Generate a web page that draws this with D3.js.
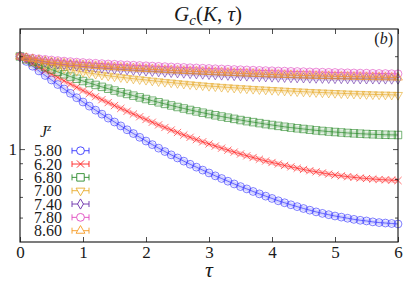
<!DOCTYPE html>
<html>
<head>
<meta charset="utf-8">
<script src="https://cdn.jsdelivr.net/npm/d3@7"></script>
</head>
<body style="margin:0; background:#fff">
<svg id="chart" width="409" height="286"></svg>
<script>
// tau grid, one point every 0.1
const tau = d3.range(61).map(i => i / 10);

const g580 = [1.996, 1.924, 1.856, 1.792, 1.732, 1.675, 1.619, 1.566, 1.516, 1.467, 1.421,
	1.378, 1.337, 1.298, 1.260, 1.224, 1.189, 1.155, 1.123, 1.092, 1.062,
	1.034, 1.007, 0.982, 0.958, 0.936, 0.914, 0.893, 0.874, 0.855, 0.837,
	0.819, 0.803, 0.787, 0.771, 0.756, 0.743, 0.729, 0.716, 0.704, 0.692,
	0.680, 0.670, 0.660, 0.651, 0.642, 0.634, 0.626, 0.619, 0.613, 0.607,
	0.602, 0.597, 0.592, 0.588, 0.585, 0.581, 0.578, 0.576, 0.574, 0.572];
const g620 = [1.996, 1.943, 1.892, 1.843, 1.796, 1.751, 1.707, 1.665, 1.625, 1.586, 1.548,
	1.513, 1.479, 1.446, 1.415, 1.384, 1.355, 1.326, 1.299, 1.273, 1.247,
	1.222, 1.198, 1.175, 1.153, 1.132, 1.111, 1.092, 1.073, 1.056, 1.039,
	1.023, 1.007, 0.992, 0.978, 0.964, 0.951, 0.939, 0.927, 0.915, 0.905,
	0.895, 0.885, 0.876, 0.867, 0.859, 0.851, 0.844, 0.837, 0.830, 0.824,
	0.819, 0.814, 0.810, 0.806, 0.803, 0.800, 0.797, 0.795, 0.793, 0.791];
const g680 = [1.996, 1.954, 1.915, 1.879, 1.844, 1.811, 1.779, 1.748, 1.718, 1.690, 1.662,
	1.638, 1.614, 1.591, 1.569, 1.548, 1.528, 1.509, 1.490, 1.471, 1.453,
	1.435, 1.418, 1.401, 1.385, 1.369, 1.354, 1.339, 1.325, 1.312, 1.299,
	1.287, 1.275, 1.264, 1.253, 1.242, 1.232, 1.223, 1.214, 1.205, 1.197,
	1.189, 1.181, 1.174, 1.168, 1.162, 1.156, 1.150, 1.145, 1.140, 1.136,
	1.132, 1.128, 1.125, 1.122, 1.119, 1.117, 1.115, 1.113, 1.112, 1.111];
const g700 = [1.996, 1.965, 1.936, 1.910, 1.887, 1.866, 1.846, 1.827, 1.810, 1.793, 1.778,
	1.764, 1.752, 1.740, 1.729, 1.719, 1.709, 1.700, 1.691, 1.683, 1.675,
	1.666, 1.658, 1.650, 1.643, 1.635, 1.628, 1.621, 1.614, 1.608, 1.601,
	1.596, 1.590, 1.585, 1.580, 1.575, 1.571, 1.566, 1.562, 1.558, 1.554,
	1.550, 1.546, 1.542, 1.538, 1.535, 1.531, 1.528, 1.525, 1.522, 1.519,
	1.516, 1.513, 1.511, 1.509, 1.506, 1.504, 1.502, 1.501, 1.499, 1.497];
const g740 = [1.996, 1.972, 1.951, 1.933, 1.917, 1.901, 1.890, 1.879, 1.870, 1.861, 1.852,
	1.844, 1.837, 1.830, 1.824, 1.818, 1.812, 1.807, 1.801, 1.796, 1.791,
	1.786, 1.781, 1.776, 1.772, 1.767, 1.763, 1.758, 1.754, 1.750, 1.746,
	1.742, 1.738, 1.735, 1.731, 1.728, 1.725, 1.721, 1.718, 1.715, 1.712,
	1.710, 1.708, 1.705, 1.703, 1.701, 1.699, 1.698, 1.696, 1.695, 1.693,
	1.692, 1.691, 1.690, 1.689, 1.688, 1.688, 1.687, 1.687, 1.686, 1.686];
const g780 = [1.996, 1.983, 1.972, 1.962, 1.953, 1.944, 1.936, 1.928, 1.921, 1.914, 1.908,
	1.902, 1.897, 1.892, 1.887, 1.883, 1.878, 1.874, 1.870, 1.866, 1.862,
	1.858, 1.854, 1.850, 1.846, 1.842, 1.839, 1.835, 1.832, 1.828, 1.825,
	1.821, 1.818, 1.815, 1.811, 1.808, 1.805, 1.802, 1.799, 1.796, 1.794,
	1.791, 1.789, 1.786, 1.784, 1.782, 1.779, 1.777, 1.775, 1.773, 1.771,
	1.769, 1.767, 1.765, 1.763, 1.762, 1.760, 1.758, 1.757, 1.755, 1.754];
const g860 = [1.996, 1.976, 1.958, 1.943, 1.928, 1.915, 1.906, 1.897, 1.888, 1.880, 1.873,
	1.866, 1.860, 1.854, 1.848, 1.842, 1.837, 1.832, 1.827, 1.822, 1.818,
	1.813, 1.809, 1.804, 1.800, 1.796, 1.792, 1.788, 1.785, 1.781, 1.778,
	1.774, 1.771, 1.767, 1.764, 1.760, 1.757, 1.754, 1.751, 1.748, 1.745,
	1.742, 1.739, 1.737, 1.734, 1.732, 1.730, 1.727, 1.725, 1.723, 1.721,
	1.720, 1.718, 1.716, 1.714, 1.712, 1.711, 1.710, 1.709, 1.707, 1.706];

const jzLabels = ["5.80", "6.20", "6.80", "7.00", "7.40", "7.80", "8.60"];
const xTicks = [0, 1, 2, 3, 4, 5, 6];
const yMajorTicks = [1];
const yMinorTicks = [0.6, 0.7, 0.8, 0.9, 2];

const series = [
	{ label: jzLabels[0], values: g580, color: "#3535ff", marker: "circle" },
	{ label: jzLabels[1], values: g620, color: "#ff1f1f", marker: "cross" },
	{ label: jzLabels[2], values: g680, color: "#2a8a2a", marker: "square" },
	{ label: jzLabels[3], values: g700, color: "#e8ab2c", marker: "triDown" },
	{ label: jzLabels[4], values: g740, color: "#6a2ea8", marker: "diamond" },
	{ label: jzLabels[5], values: g780, color: "#e048c0", marker: "circle" },
	{ label: jzLabels[6], values: g860, color: "#f59a23", marker: "triUp" },
];

const bounds = { minX: 20, maxX: 398, minY: 29, maxY: 242 };
const svg = d3.select("svg#chart");

const scaleX = d3.scaleLinear().domain([0, 6]).range([bounds.minX, bounds.maxX]);
const scaleY = d3.scaleLog().domain([0.5, 2.45]).range([bounds.maxY, bounds.minY]);

/*
 * path string for a marker kind, centred on 0,0
 */
function markerPath(kind) {
	switch (kind) {
		case "circle": return d3.symbol(d3.symbolCircle, 48)();
		case "square": return d3.symbol(d3.symbolSquare, 56)();
		case "diamond": return d3.symbol(d3.symbolDiamond, 30)();
		case "triUp":
		case "triDown": return d3.symbol(d3.symbolTriangle, 34)();
		case "cross": return "M-3.6,-3.6L3.6,3.6M-3.6,3.6L3.6,-3.6";
	}
}

function markerRotate(kind) {
	return kind === "triDown" ? " rotate(180)" : "";
}

// every text gets the serif face as an important inline style
function serif(sel, size) {
	return sel
		.style("font-family", "\"Liberation Serif\"", "important")
		.attr("font-size", size)
		.attr("fill", "#1a1a1a");
}

// axes, all ticks pointing inwards
function drawAxes() {
	let axes = [
		svg.append("g")
			.attr("transform", `translate(0 ${bounds.maxY})`)
			.call(d3.axisBottom(scaleX).tickValues(xTicks).tickSize(-5).tickPadding(4).tickFormat(d3.format("d"))),
		svg.append("g")
			.attr("transform", `translate(0 ${bounds.minY})`)
			.call(d3.axisTop(scaleX).tickValues(xTicks).tickSize(-5).tickFormat("")),
		svg.append("g")
			.attr("transform", `translate(${bounds.minX} 0)`)
			.call(d3.axisLeft(scaleY).tickValues(yMajorTicks).tickSize(-5).tickPadding(3).tickFormat(d3.format("d"))),
		svg.append("g")
			.attr("transform", `translate(${bounds.minX} 0)`)
			.call(d3.axisLeft(scaleY).tickValues(yMinorTicks).tickSize(-3).tickFormat("")),
		svg.append("g")
			.attr("transform", `translate(${bounds.maxX} 0)`)
			.call(d3.axisRight(scaleY).tickValues(yMajorTicks).tickSize(-5).tickFormat("")),
		svg.append("g")
			.attr("transform", `translate(${bounds.maxX} 0)`)
			.call(d3.axisRight(scaleY).tickValues(yMinorTicks).tickSize(-3).tickFormat("")),
	];
	// d3 puts sans-serif on the axis group, drop it
	axes.forEach(g => g.attr("font-family", null).attr("font-size", null));

	svg.selectAll(".domain").remove();
	svg.selectAll(".tick line").attr("stroke", "#222").attr("stroke-width", 0.8);
	serif(svg.selectAll(".tick text"), 17);

	svg.append("rect")
		.attr("x", bounds.minX)
		.attr("y", bounds.minY)
		.attr("width", bounds.maxX - bounds.minX)
		.attr("height", bounds.maxY - bounds.minY)
		.attr("fill", "none")
		.attr("stroke", "#111")
		.attr("stroke-width", 1.1);
}

function drawSeries() {
	let line = d3.line()
		.x((_, i) => scaleX(tau[i]))
		.y(d => scaleY(d));

	let groups = svg.append("g")
		.selectAll("g")
		.data(series)
		.join("g");

	// faint wide band under each curve
	groups.append("path")
		.attr("d", d => line(d.values))
		.attr("fill", "none")
		.attr("stroke", d => d.color)
		.attr("stroke-width", 5)
		.attr("stroke-opacity", 0.22);

	groups.append("path")
		.attr("d", d => line(d.values))
		.attr("fill", "none")
		.attr("stroke", d => d.color)
		.attr("stroke-width", 0.8)
		.attr("stroke-opacity", 0.85);

	groups.each(function (s) {
		d3.select(this).selectAll("path.marker")
			.data(s.values)
			.join("path")
			.classed("marker", true)
			.attr("d", markerPath(s.marker))
			.attr("transform", (d, i) => `translate(${scaleX(tau[i])} ${scaleY(d)})${markerRotate(s.marker)}`)
			.attr("fill", "none")
			.attr("stroke", s.color)
			.attr("stroke-width", 0.8)
			.attr("stroke-opacity", 0.8);
	});
}

function drawLegend() {
	let legend = svg.append("g");
	let title = serif(legend.append("text"), 16)
		.attr("x", 40)
		.attr("y", 137);
	title.append("tspan").attr("font-style", "italic").text("J");
	title.append("tspan").attr("font-style", "italic").attr("font-size", 11).attr("dy", -6).text("z");

	let rows = legend.selectAll("g.row")
		.data(series)
		.join("g")
		.classed("row", true)
		.attr("transform", (_, i) => `translate(0 ${150.7 + i * 13.33})`);

	serif(rows.append("text"), 16)
		.attr("x", 62)
		.attr("dy", "0.35em")
		.attr("text-anchor", "end")
		.text(d => d.label);

	rows.append("path")
		.attr("d", "M72,0H89M72,-3V3M89,-3V3")
		.attr("stroke", d => d.color)
		.attr("stroke-width", 0.9)
		.attr("fill", "none");

	rows.append("path")
		.attr("d", d => markerPath(d.marker))
		.attr("transform", d => `translate(80.5 0)${markerRotate(d.marker)}`)
		.attr("fill", "#fff")
		.attr("stroke", d => d.color)
		.attr("stroke-width", 0.9);
}

function drawLabels() {
	let title = serif(svg.append("text"), 21)
		.attr("x", 208)
		.attr("y", 21)
		.attr("text-anchor", "middle");
	title.append("tspan").attr("font-style", "italic").text("G");
	title.append("tspan").attr("font-style", "italic").attr("font-size", 15).attr("dy", 4).text("c");
	title.append("tspan").attr("dy", -4).text("(");
	title.append("tspan").attr("font-style", "italic").text("K");
	title.append("tspan").text(", ");
	title.append("tspan").attr("font-style", "italic").text("τ");
	title.append("tspan").text(")");

	let tag = serif(svg.append("text"), 16)
		.attr("x", 393)
		.attr("y", 44)
		.attr("text-anchor", "end");
	tag.append("tspan").text("(");
	tag.append("tspan").attr("font-style", "italic").text("b");
	tag.append("tspan").text(")");

	serif(svg.append("text"), 22)
		.attr("x", 209)
		.attr("y", 277)
		.attr("text-anchor", "middle")
		.attr("font-style", "italic")
		.text("τ");
}

drawSeries();
drawAxes();
drawLegend();
drawLabels();
</script>
</body>
</html>
